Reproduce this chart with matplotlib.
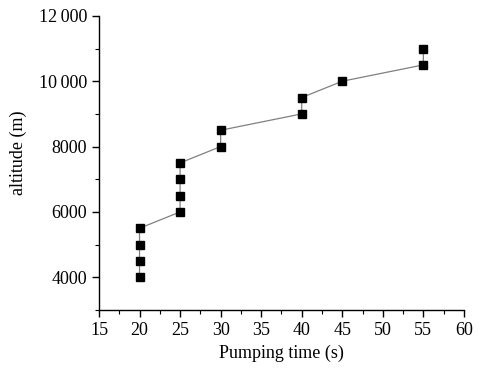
import matplotlib
matplotlib.use('Agg')
import matplotlib.pyplot as plt
from matplotlib.ticker import FuncFormatter, MultipleLocator

pump_time = [20, 20, 20, 20, 25, 25, 25, 25, 30, 30, 40, 40, 45, 55, 55]
altitude = [4000, 4500, 5000, 5500, 6000, 6500, 7000, 7500, 8000, 8500,
            9000, 9500, 10000, 10500, 11000]

plt.rcParams['font.family'] = ['Liberation Serif', 'DejaVu Serif']

fig = plt.figure(figsize=(4.84, 3.78), dpi=100)
ax = fig.add_axes([0.2045, 0.180, 0.754, 0.778])

ax.plot(pump_time, altitude, '-', color='#808080', linewidth=0.9, zorder=2)
ax.plot(pump_time, altitude, 's', color='black', markersize=5.2, zorder=3)

ax.set_xlim(15, 60)
ax.set_ylim(3000, 12000)
ax.xaxis.set_major_locator(MultipleLocator(5))
ax.xaxis.set_minor_locator(MultipleLocator(2.5))
ax.yaxis.set_major_locator(MultipleLocator(2000))
ax.yaxis.set_minor_locator(MultipleLocator(1000))


def fmt(v, pos):
    v = int(round(v))
    if v >= 10000:
        return f"{v // 1000}\u2009{v % 1000:03d}"
    return str(v)


ax.yaxis.set_major_formatter(FuncFormatter(fmt))

for s in ['top', 'right']:
    ax.spines[s].set_visible(False)
for s in ['left', 'bottom']:
    ax.spines[s].set_linewidth(1.0)

ax.tick_params(which='major', direction='out', length=5, width=1.0, labelsize=13)
ax.tick_params(which='minor', direction='out', length=3, width=0.8)

ax.set_xlabel('Pumping time (s)', fontsize=13)
ax.set_ylabel('altitude (m)', fontsize=13)
ax.yaxis.set_label_coords(-0.197, 0.535)

fig.savefig('out.png', dpi=100)
plt.close(fig)
